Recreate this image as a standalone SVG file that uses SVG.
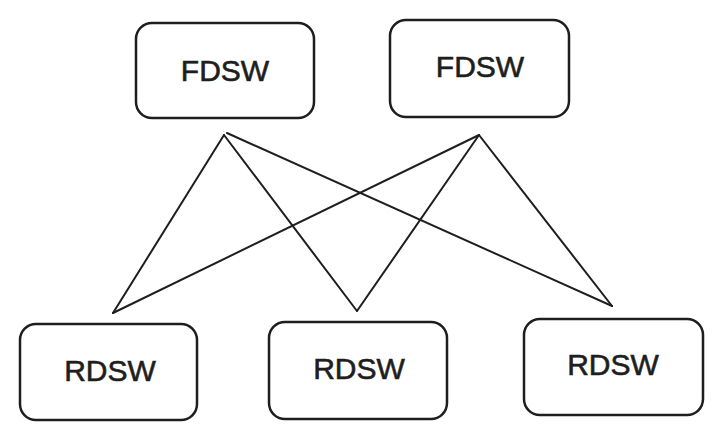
<svg xmlns="http://www.w3.org/2000/svg" width="721" height="440" viewBox="0 0 721 440">
<style>
.box{fill:#ffffff;stroke:#1e1e1e;stroke-width:2.5;}
.lbl{font-family:"Liberation Sans",Arial,sans-serif;font-size:30px;fill:#1e1e1e;stroke:#1e1e1e;stroke-width:0.6;text-anchor:middle;dominant-baseline:central;}
.edge{stroke:#1e1e1e;stroke-width:2;fill:none;stroke-linecap:round;}
</style>
<rect width="721" height="440" fill="#ffffff"/>
<g id="connectors">
<line class="edge" x1="224" y1="135" x2="113" y2="313"/>
<line class="edge" x1="224" y1="135" x2="357" y2="311"/>
<line class="edge" x1="227" y1="133" x2="612" y2="306"/>
<line class="edge" x1="479" y1="135" x2="113" y2="313"/>
<line class="edge" x1="479" y1="135" x2="357" y2="311"/>
<line class="edge" x1="479" y1="135" x2="612" y2="306"/>
</g>
<g id="fdsw1"><rect class="box" x="136" y="23" width="178" height="95" rx="16"/><text class="lbl" x="225" y="70">FDSW</text></g>
<g id="fdsw2"><rect class="box" x="390" y="20" width="179" height="97" rx="16"/><text class="lbl" x="480" y="66">FDSW</text></g>
<g id="rdsw1"><rect class="box" x="20" y="324" width="177" height="96" rx="16"/><text class="lbl" x="110" y="370">RDSW</text></g>
<g id="rdsw2"><rect class="box" x="269" y="322" width="178" height="97" rx="16"/><text class="lbl" x="359" y="368">RDSW</text></g>
<g id="rdsw3"><rect class="box" x="524" y="319" width="179" height="96" rx="16"/><text class="lbl" x="613" y="364">RDSW</text></g>
</svg>
